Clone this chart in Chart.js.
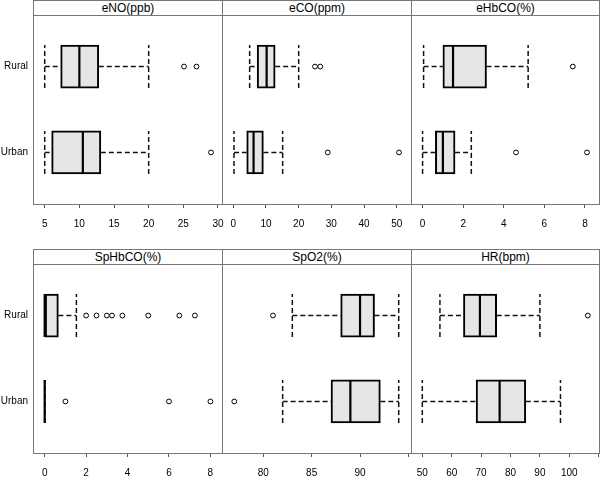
<!DOCTYPE html>
<html>
<head>
<meta charset="utf-8">
<script src="https://cdn.jsdelivr.net/npm/chart.js@4.4.0/dist/chart.umd.min.js"></script>
<style>
  body { margin: 0; background: #fff; width: 600px; height: 477px; overflow: hidden; position: relative;
         font-family: "Liberation Sans", Arial, sans-serif; }
  canvas { position: absolute; }
  .strip { position: absolute; box-sizing: border-box; height: 16px; border: 1px solid #777; background: #fff;
           font-size: 12px; line-height: 14px; text-align: center; color: #000; }
</style>
</head>
<body>
<script>
// panels, left to right, top to bottom
const panelTitles = ['eNO(ppb)', 'eCO(ppm)', 'eHbCO(%)', 'SpHbCO(%)', 'SpO2(%)', 'HR(bpm)'];
const groupNames = ['Urban', 'Rural'];

// Rural
const ruralLow  = [5,    5,    0.05, 0,    83,   56];
const ruralQ1   = [7.3,  7.3,  1.0,  0,    88,   64];
const ruralMed  = [10,   10.2, 1.5,  0,    90,   69.6];
const ruralQ3   = [12.8, 12.8, 3.15, 0.66, 91.5, 75.3];
const ruralHigh = [20,   20,   5.2,  1.53, 94,   90];
const ruralOut  = [[25.1, 26.9], [25, 26.6], [7.4], [2, 2.5, 3, 3.25, 3.75, 5, 6.5, 7.25], [81], [106.3]];

// Urban
const urbanLow  = [5,    0.2,  0,    0,    82,   50];
const urbanQ1   = [6,    4.1,  0.63, 0,    87,   68.3];
const urbanMed  = [10.5, 6.2,  1.0,  0,    89,   76.3];
const urbanQ3   = [13.1, 9.2,  1.6,  0,    92.1, 85.2];
const urbanHigh = [20,   15.1, 2.4,  0,    94,   97];
const urbanOut  = [[29], [28.9, 50.7], [4.6, 8.1], [1, 6, 8], [77], []];

// x axes
const xMin = [3.31, -3.46, -0.57, -0.565, 75.73, 46.16];
const xMax = [30.58, 54.37, 8.69, 8.56, 95.27, 110.1];
const tickVals = [[5, 10, 15, 20, 25, 30], [0, 10, 20, 30, 40, 50], [0, 2, 4, 6, 8],
                  [0, 2, 4, 6, 8], [80, 85, 90, 95], [50, 60, 70, 80, 90, 100, 110]];
const tickLabels = [['5', '10', '15', '20', '25', '30'], ['0', '10', '20', '30', '40', '50'], ['0', '2', '4', '6', '8'],
                    ['0', '2', '4', '6', '8'], ['80', '85', '90', ''], ['50', '60', '70', '80', '90', '100', '']];

// layout of the lattice
const colLeft = [33, 222, 411], colRight = [222, 411, 599];
const rowTop = [15, 264], rowBottom = [204, 453];
const PAD = 12, PAD_TOP = 20;
const halfBox = 0.25;
const groupPos = [1, 2];

Chart.defaults.font.family = '"Liberation Sans", Arial, sans-serif';

// panel border
const frame = {
  id: 'frame',
  afterDraw(chart) {
    const { ctx, chartArea: a } = chart;
    ctx.save();
    ctx.strokeStyle = '#777';
    ctx.lineWidth = 1;
    ctx.strokeRect(Math.round(a.left) + 0.5, Math.round(a.top) + 0.5,
                   Math.round(a.right - a.left), Math.round(a.bottom - a.top));
    ctx.restore();
  }
};

function seg(p1, p2, style) {
  return Object.assign({
    type: 'line',
    data: [{ x: p1[0], y: p1[1] }, { x: p2[0], y: p2[1] }],
    pointRadius: 0,
    fill: false
  }, style);
}

function panelDatasets(i) {
  const stats = [
    { low: urbanLow[i], q1: urbanQ1[i], med: urbanMed[i], q3: urbanQ3[i], high: urbanHigh[i], out: urbanOut[i] },
    { low: ruralLow[i], q1: ruralQ1[i], med: ruralMed[i], q3: ruralQ3[i], high: ruralHigh[i], out: ruralOut[i] }
  ];
  const whisker = { borderColor: '#111', borderWidth: 1.5, borderDash: [5, 3], order: 3 };
  const median = { borderColor: '#000', borderWidth: 2.2, order: 0 };
  const sets = [];
  const boxes = [];
  const outliers = [];
  stats.forEach((s, k) => {
    const y = groupPos[k];
    boxes.push({ x: [s.q1, s.q3], y: y });
    s.out.forEach(v => outliers.push({ x: v, y: y }));
    sets.push(seg([s.med, y - halfBox], [s.med, y + halfBox], median));
    sets.push(seg([s.low, y], [s.q1, y], whisker));
    sets.push(seg([s.q3, y], [s.high, y], whisker));
    sets.push(seg([s.low, y - halfBox], [s.low, y + halfBox], whisker));
    sets.push(seg([s.high, y - halfBox], [s.high, y + halfBox], whisker));
  });
  sets.push({
    type: 'bar',
    indexAxis: 'y',
    data: boxes,
    barThickness: 43,
    backgroundColor: '#e6e6e6',
    borderColor: '#000',
    borderWidth: 2,
    borderSkipped: false,
    order: 2
  });
  sets.push({
    type: 'scatter',
    data: outliers,
    pointStyle: 'circle',
    pointRadius: 2.4,
    borderWidth: 1,
    borderColor: '#000',
    backgroundColor: 'rgba(0,0,0,0)',
    order: 1
  });
  return sets;
}

function makePanel(i) {
  const col = i % 3, row = Math.floor(i / 3);
  const L = colLeft[col], R = colRight[col], T = rowTop[row], B = rowBottom[row];
  const left = col === 0 ? 0 : L - PAD;
  const padLeft = col === 0 ? 0 : PAD;

  const strip = document.createElement('div');
  strip.className = 'strip';
  strip.style.left = L + 'px';
  strip.style.top = (T - 15) + 'px';
  strip.style.width = (R - L + 1) + 'px';
  strip.textContent = panelTitles[i];
  document.body.appendChild(strip);

  const canvas = document.createElement('canvas');
  canvas.width = R + PAD - left;
  canvas.height = B - T + 30 + PAD_TOP;
  canvas.style.left = left + 'px';
  canvas.style.top = (T - PAD_TOP) + 'px';
  document.body.appendChild(canvas);

  new Chart(canvas, {
    type: 'bar',
    data: { datasets: panelDatasets(i) },
    options: {
      responsive: false,
      animation: false,
      layout: { padding: { left: padLeft, right: PAD, top: PAD_TOP, bottom: 0 } },
      plugins: { legend: { display: false }, tooltip: { enabled: false } },
      scales: {
        x: {
          type: 'linear',
          min: xMin[i],
          max: xMax[i],
          offset: false,
          beginAtZero: false,
          afterBuildTicks: s => { s.ticks = tickVals[i].map(v => ({ value: v })); },
          afterFit: s => { s.height = 30; },
          grid: { display: true, drawOnChartArea: false, drawTicks: true, tickLength: 4, color: '#555', offset: false },
          border: { display: false },
          ticks: {
            autoSkip: false, maxRotation: 0, padding: 10, color: '#000', font: { size: 10 },
            callback: (v, idx) => tickLabels[i][idx]
          }
        },
        y: {
          type: 'linear',
          min: 0.4,
          max: 2.6,
          offset: false,
          beginAtZero: false,
          display: col === 0,
          afterBuildTicks: s => { s.ticks = groupPos.map(v => ({ value: v })); },
          afterFit: s => { s.width = col === 0 ? 33 : 0; },
          grid: { display: false, drawTicks: false, tickLength: 0 },
          border: { display: false },
          ticks: {
            padding: 5, color: '#000', font: { size: 10 },
            callback: v => groupNames[groupPos.indexOf(v)]
          }
        }
      }
    },
    plugins: [frame]
  });
}

for (let i = 0; i < 6; i++) makePanel(i);
</script>
</body>
</html>
